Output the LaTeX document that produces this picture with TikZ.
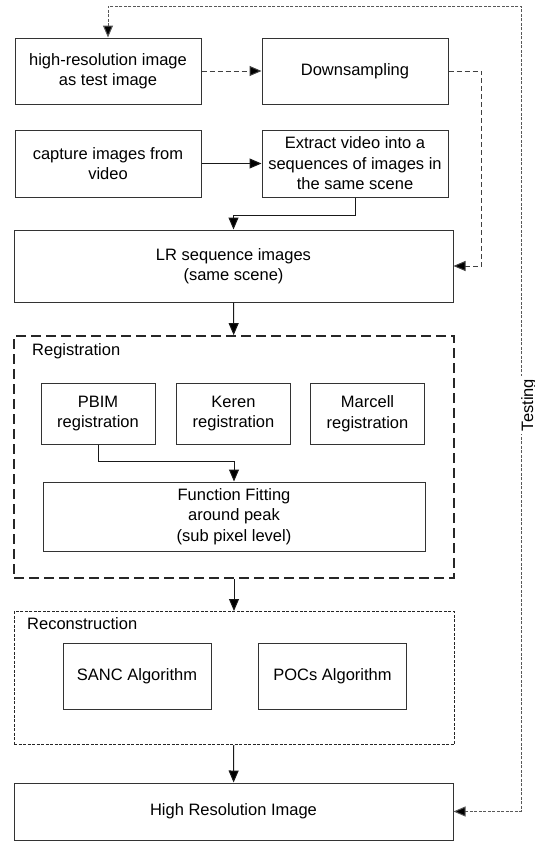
\documentclass[tikz,border=0pt]{standalone}
\usepackage{fontspec}
\setmainfont{Liberation Sans}
\usetikzlibrary{arrows.meta}

\def\boxw{186pt}
\def\algow{148pt}

\begin{document}
\begin{tikzpicture}[x=1pt,y=-1pt,>={Triangle[length=12pt,width=10pt,fill=black]},
    font=\fontsize{16.5}{20.5}\selectfont]
    \tikzstyle{block}=[draw=black!80,line width=1pt,align=center,inner sep=0pt]
    \tikzstyle{group}=[draw=black!85,inner sep=0pt]
    \tikzstyle{flow}=[->,draw=black!90,line width=1pt]
    \tikzstyle{dash link}=[->,draw=black!75,line width=1pt,dash pattern=on 5pt off 3pt]
    \tikzstyle{test link}=[<->,draw=black!65,line width=1pt,dash pattern=on 3pt off 1.5pt]
    \tikzstyle{annot}=[anchor=west,inner sep=0pt]

    \useasboundingbox (0,0) rectangle (535,841);

    % Input stage
    \node[block, minimum width=\boxw, minimum height=66pt] (hi) at (108,71) {high-resolution image\\as test image};
    \node[block, minimum width=\boxw, minimum height=66pt] (ds) at (355,71) {Downsampling};
    \node[block, minimum width=\boxw, minimum height=67pt] (cap) at (108,163.5) {capture images from\\video};
    \node[block, minimum width=\boxw, minimum height=67pt] (ex) at (355,163.5) {Extract video into a\\sequences of images in\\the same scene};
    \node[block, minimum width=439pt, minimum height=72pt] (lr) at (233.5,266) {LR sequence images\\(same scene)};

    % Registration group
    \node[group, line width=1.8pt, dash pattern=on 10pt off 5pt, minimum width=440pt, minimum height=242pt] (reg) at (234,457) {};
    \node[annot] (reglab) at (32,351) {Registration};
    \foreach \name/\x/\method in {pbim/98/PBIM, keren/233.5/Keren, marcell/367.5/Marcell}
        \node[block, minimum width=114pt, minimum height=61pt] (\name) at (\x,413.5) {\method\\registration};
    \node[block, minimum width=382pt, minimum height=69pt] (fit) at (234,516.5) {Function Fitting\\around peak\\(sub pixel level)};

    % Reconstruction group
    \node[group, line width=1pt, dash pattern=on 3pt off 1.5pt, minimum width=440pt, minimum height=133pt] (rec) at (234,678) {};
    \node[annot] (reclab) at (27,624) {Reconstruction};
    \node[block, minimum width=\algow, minimum height=66pt] (sanc) at (137,676) {SANC Algorithm};
    \node[block, minimum width=\algow, minimum height=66pt] (pocs) at (332.5,676) {POCs Algorithm};

    \node[block, minimum width=439pt, minimum height=57pt] (hr) at (233.5,811.5) {High Resolution Image};

    % Connections
    \draw[dash link] (hi) -- (ds);
    \draw[dash link] (ds.east) -- ++(33,0) |- (lr.east);
    \draw[flow] (cap) -- (ex);
    \draw[flow] (ex.south) -- ++(0,18) -| (lr.north);
    \draw[flow] (lr) -- (reg);
    \draw[flow] (pbim.south) -- ++(0,16.5) -| (fit.north);
    \draw[flow] (reg) -- (rec);
    \draw[flow] (rec) -- (hr);

    % Testing loop
    \coordinate (tc) at (521,6);
    \draw[test link] (hr.east) -| (tc) -| (hi.north);
    \node[rotate=90, anchor=north, fill=white, inner sep=3pt] (testlab) at (518,405) {Testing};

\end{tikzpicture}
\end{document}
